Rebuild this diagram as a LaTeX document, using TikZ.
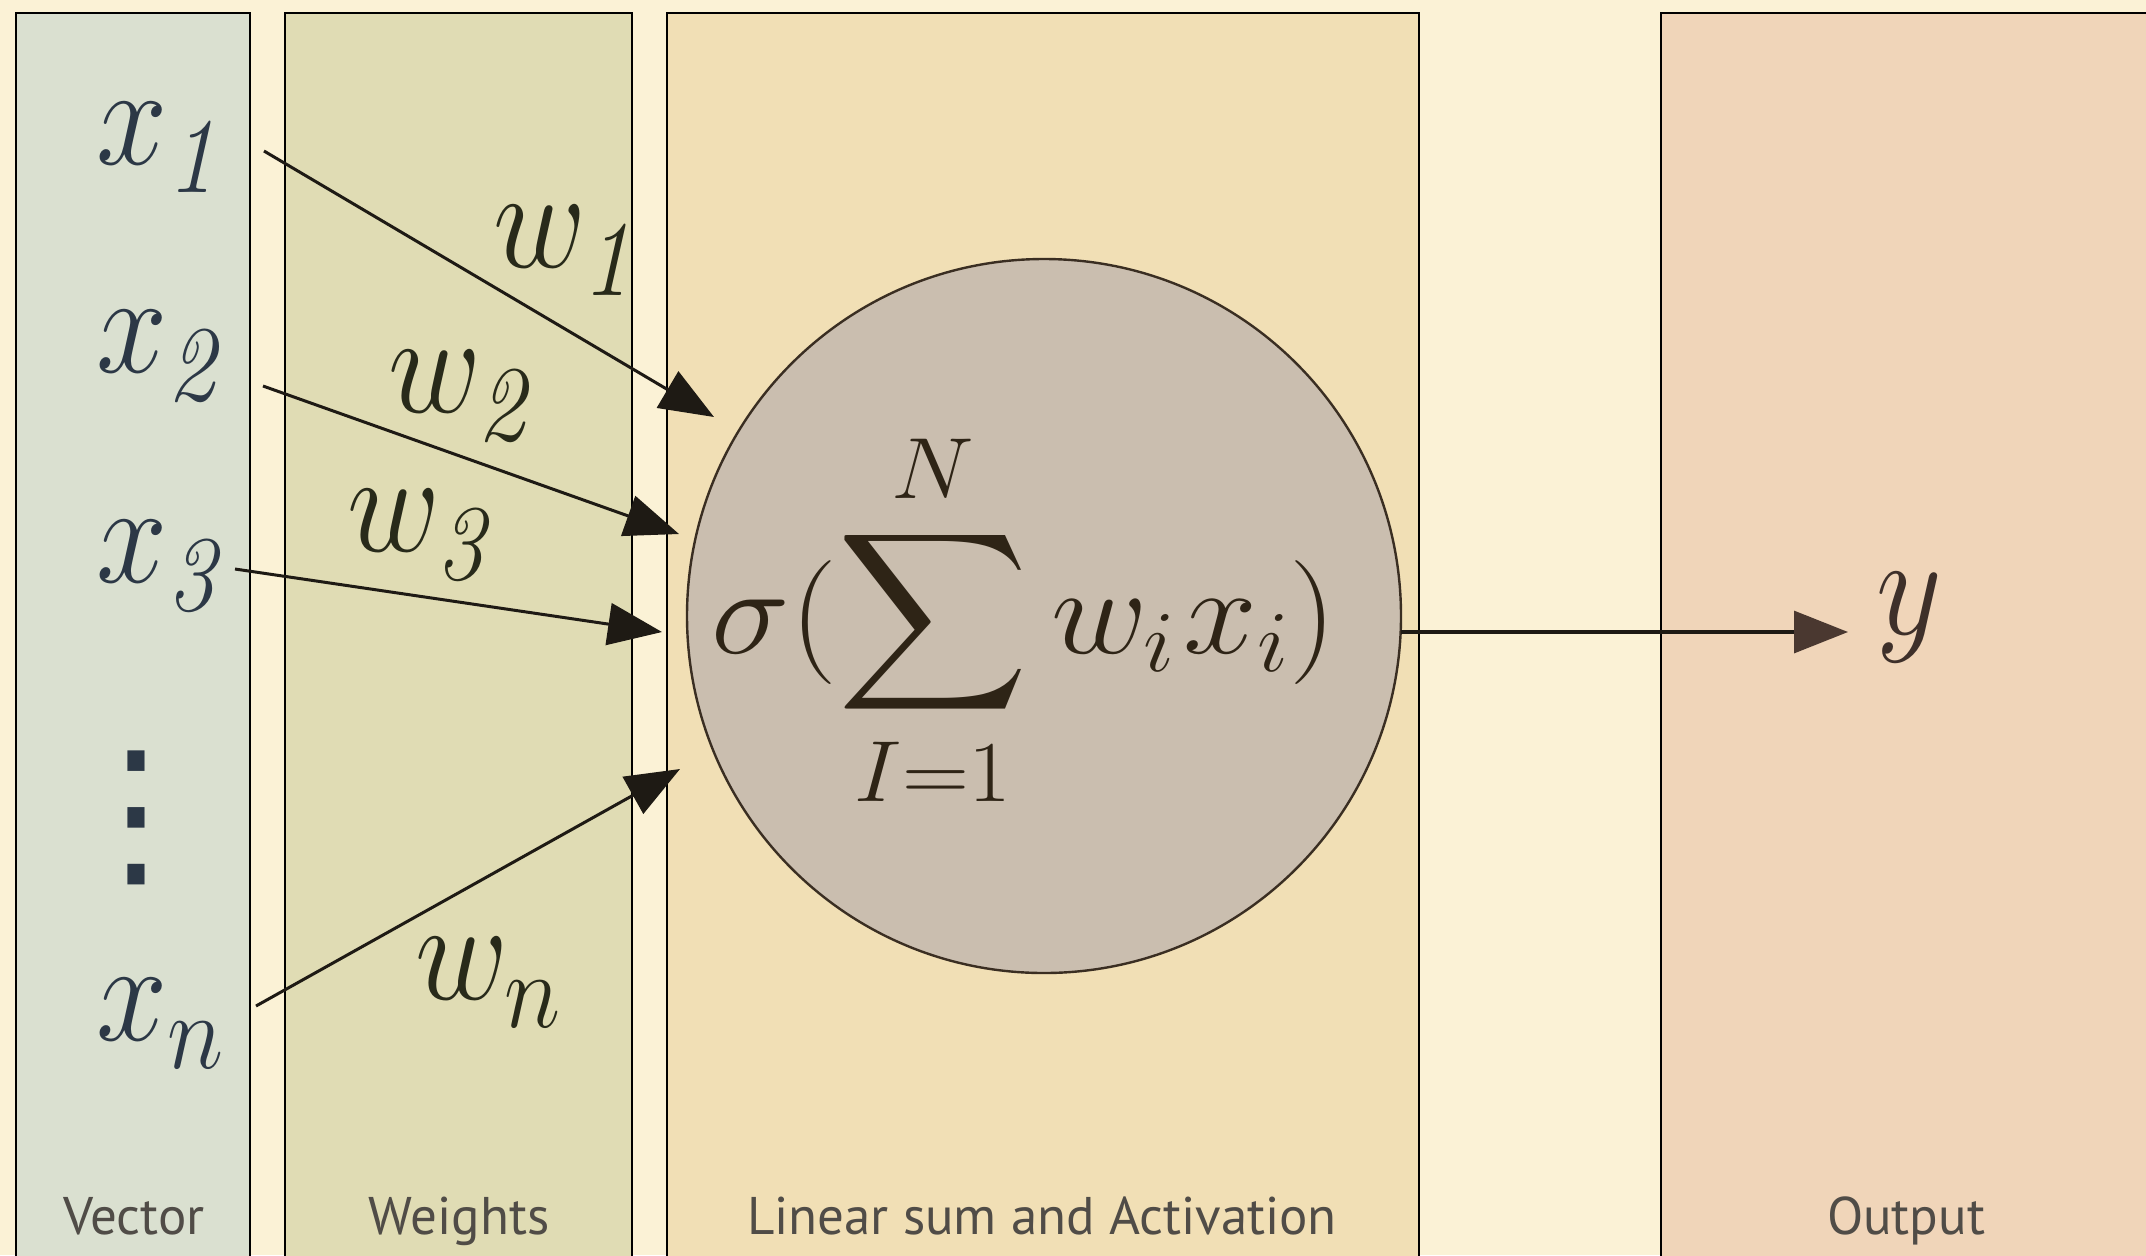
\RequirePackage{fix-cm}
\documentclass[tikz,border=0pt]{standalone}
\usepackage{fontspec}
\newfontfamily\labelfont{PT Sans}
\newfontfamily\dotfont{DejaVu Sans}
\usetikzlibrary{arrows.meta}
\DeclareFontFamily{OMX}{cmex}{}
\DeclareFontShape{OMX}{cmex}{m}{n}{<->cmex10}{}
\DeclareMathSizes{64}{64}{48}{36}
\newcommand\lsub[1]{\lower 3pt\hbox{$\scriptstyle #1$}}
\newcommand\labbox[1]{\scalebox{1}[1.12]{#1}}
\definecolor{bg}{RGB}{251,242,214}
\definecolor{vecfill}{RGB}{218,224,208}
\definecolor{wfill}{RGB}{224,220,180}
\definecolor{linfill}{RGB}{241,223,181}
\definecolor{outfill}{RGB}{240,213,185}
\definecolor{neufill}{RGB}{202,190,175}
\definecolor{neuline}{RGB}{58,46,34}
\definecolor{xcol}{RGB}{44,56,70}
\definecolor{wcol}{RGB}{40,42,26}
\definecolor{sigcol}{RGB}{46,36,22}
\definecolor{ycol}{RGB}{62,48,42}
\definecolor{arrcol}{RGB}{30,26,20}
\definecolor{outarr}{RGB}{74,56,48}
\definecolor{labcol}{RGB}{80,76,71}
\begin{document}
\begin{tikzpicture}[x=0.5pt,y=-0.5pt,
  panel/.style={draw=black, line width=1pt},
  mathlab/.style={inner sep=0pt, anchor=base west, font=\fontsize{64}{70}\selectfont},
  conn/.style={line width=1.5pt, draw=arrcol, -{Triangle[length=27pt,width=21pt]}, fill=arrcol},
  paneltitle/.style={inner sep=0pt, anchor=base, text=labcol, font=\labelfont\fontsize{26.5}{30}\selectfont}]
\useasboundingbox (0,0) rectangle (2146,1255);
\clip (0,0) rectangle (2146,1255);
\fill[bg] (0,0) rectangle (2146,1255);
% panels
\draw[panel, fill=vecfill] (16,13) rectangle (250,1280);
\draw[panel, fill=wfill] (285,13) rectangle (632,1280);
\draw[panel, fill=linfill] (667,13) rectangle (1419,1280);
\draw[panel, fill=outfill] (1661,13) rectangle (2170,1280);
% neuron
\node[circle, draw=neuline, line width=1.2pt, fill=neufill, minimum size=357pt, inner sep=0pt] (neuron) at (1044,616) {};
\node[inner sep=0pt, anchor=base, text=sigcol, font=\fontsize{62}{70}\selectfont] (formula) at (1024,653)
  {\scalebox{1.07}[1]{$\displaystyle\sigma(\sum_{I=1}^{N} w_i\mkern1mu x_i)$}};
% inputs
\node[mathlab, text=xcol] (x1) at (96,164) {\labbox{$x_{\lsub{\mathit{1}}}$}};
\node[mathlab, text=xcol] (x2) at (96,372) {\labbox{$x_{\lsub{\mathit{2}}}$}};
\node[mathlab, text=xcol] (x3) at (96,582) {\labbox{$x_{\lsub{\mathit{3}}}$}};
\node[mathlab, text=xcol] (xn) at (96,1040) {\labbox{$x_{\lsub{n}}$}};
\node[inner sep=0pt, text=xcol, font=\dotfont\fontsize{83}{90}\selectfont] (dots) at (136,818) {⋮};
% weights
\node[mathlab, text=wcol] (w1) at (493,267) {\labbox{$w_{\lsub{\mathit{1}}}$}};
\node[mathlab, text=wcol] (w2) at (388,412) {\labbox{$w_{\lsub{\mathit{2}}}$}};
\node[mathlab, text=wcol] (w3) at (347,551) {\labbox{$w_{\lsub{\mathit{3}}}$}};
\node[mathlab, text=wcol] (wn) at (415,999) {\labbox{$w_{\lsub{n}}$}};
% output
\node[mathlab, text=ycol] (y) at (1876,634) {\labbox{$y$}};
% connector ends
\coordinate (s1) at (264,151);  \coordinate (t1) at (714,417);
\coordinate (s2) at (263,386);  \coordinate (t2) at (679,534);
\coordinate (s3) at (235,569);  \coordinate (t3) at (662,632);
\coordinate (sn) at (256,1006); \coordinate (tn) at (680,769);
\coordinate (so) at (1401,632); \coordinate (to) at (1848,632);
\draw[conn] (s1) -- (t1);
\draw[conn] (s2) -- (t2);
\draw[conn] (s3) -- (t3);
\draw[conn] (sn) -- (tn);
\draw[line width=1.6pt, draw=arrcol, -{Triangle[length=27pt,width=21pt,color=outarr]}] (so) -- (to);
% titles
\node[paneltitle] (lv) at (134,1234) {Vector};
\node[paneltitle] (lw) at (459,1234) {Weights};
\node[paneltitle] (ll) at (1042,1234) {Linear sum and Activation};
\node[paneltitle] (lo) at (1906,1234) {Output};
\end{tikzpicture}
\end{document}
